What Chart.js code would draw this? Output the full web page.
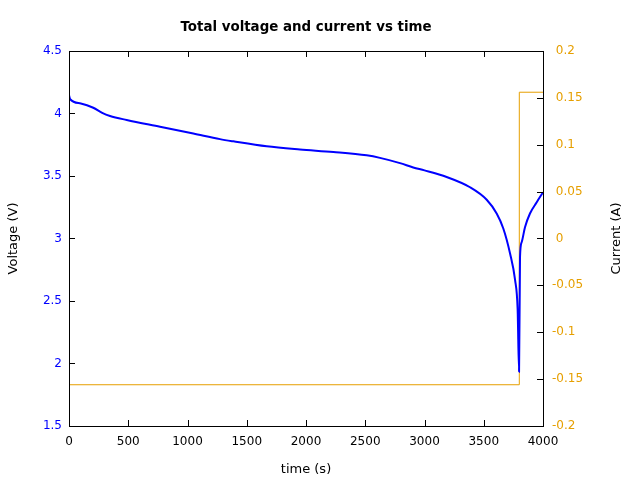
<!DOCTYPE html>
<html>
<head>
<meta charset="utf-8">
<script src="https://cdn.jsdelivr.net/npm/chart.js@4"></script>
<style>
  html, body { margin: 0; padding: 0; background: #fff; }
  #wrap { width: 640px; height: 480px; }
</style>
</head>
<body>
<div id="wrap"><canvas id="vcChart" width="640" height="480"></canvas></div>
<script>
// time (s) and total voltage (V)
const voltTimes = [0, 10, 100, 205, 280, 346, 487, 768, 1049, 1274, 1387, 1668, 1949, 2231, 2512, 2624, 2793, 2905, 3000, 3187, 3384, 3525, 3609, 3665, 3722, 3764, 3786, 3798, 3806, 3820, 3848, 3890, 3947, 4000];
const voltValues = [4.148, 4.114, 4.08, 4.046, 4.005, 3.98, 3.948, 3.894, 3.84, 3.795, 3.777, 3.737, 3.712, 3.692, 3.665, 3.645, 3.603, 3.568, 3.545, 3.492, 3.41, 3.31, 3.20, 3.08, 2.88, 2.67, 2.43, 1.934, 2.85, 2.97, 3.09, 3.20, 3.29, 3.37];

// current (A), step change at ~3800 s
const currTimes = [0, 3800, 3800, 4000];
const currValues = [-0.156, -0.156, 0.156, 0.156];

const xTicks = [0, 500, 1000, 1500, 2000, 2500, 3000, 3500, 4000];

const BLUE = '#0000ff';
const ORANGE = '#e69f00';
const FONT = 'DejaVu Sans';

const toPoints = (xs, ys) => xs.map((x, i) => ({ x: x, y: ys[i] }));

// frame, inward ticks and the right axis title (read bottom to top, like the left one)
const framePlugin = {
  id: 'frame',
  afterDatasetsDraw(chart) {
    const { ctx, chartArea: a, scales } = chart;
    const len = 6;
    ctx.save();
    ctx.strokeStyle = '#000';
    ctx.lineWidth = 1;
    ctx.beginPath();
    scales.x.ticks.forEach(t => {
      const px = Math.round(scales.x.getPixelForValue(t.value)) + 0.5;
      ctx.moveTo(px, a.bottom); ctx.lineTo(px, a.bottom - len);
      ctx.moveTo(px, a.top); ctx.lineTo(px, a.top + len);
    });
    scales.y.ticks.forEach(t => {
      const py = Math.round(scales.y.getPixelForValue(t.value)) + 0.5;
      ctx.moveTo(a.left, py); ctx.lineTo(a.left + len, py);
    });
    scales.y2.ticks.forEach(t => {
      const py = Math.round(scales.y2.getPixelForValue(t.value)) + 0.5;
      ctx.moveTo(a.right, py); ctx.lineTo(a.right - len, py);
    });
    ctx.stroke();
    ctx.strokeRect(Math.round(a.left) + 0.5, Math.round(a.top) + 0.5,
      Math.round(a.right - a.left), Math.round(a.bottom - a.top));

    ctx.translate(617, (a.top + a.bottom) / 2);
    ctx.rotate(-Math.PI / 2);
    ctx.fillStyle = '#000';
    ctx.font = '13px "' + FONT + '"';
    ctx.textAlign = 'center';
    ctx.textBaseline = 'middle';
    ctx.fillText('Current (A)', 0, 0);
    ctx.restore();
  }
};

new Chart(document.getElementById('vcChart'), {
  type: 'line',
  data: {
    datasets: [{
      label: 'Voltage',
      data: toPoints(voltTimes, voltValues),
      yAxisID: 'y',
      borderColor: BLUE,
      borderWidth: 2,
      pointRadius: 0,
      cubicInterpolationMode: 'monotone'
    }, {
      label: 'Current',
      data: toPoints(currTimes, currValues),
      yAxisID: 'y2',
      borderColor: ORANGE,
      borderWidth: 1,
      pointRadius: 0,
      tension: 0
    }]
  },
  options: {
    responsive: false,
    animation: false,
    layout: { padding: 0 },
    plugins: {
      legend: { display: false },
      tooltip: { enabled: false },
      title: {
        display: true,
        text: 'Total voltage and current vs time',
        fullSize: false,
        color: '#000',
        font: { family: FONT, size: 13.4, weight: 'bold' },
        padding: { top: 19, bottom: 15.9 }
      }
    },
    scales: {
      x: {
        type: 'linear',
        min: 0, max: 4000,
        afterBuildTicks: s => { s.ticks = xTicks.map(v => ({ value: v })); },
        afterFit: s => { s.height = 54; },
        grid: { display: false, drawTicks: false },
        border: { display: false },
        ticks: { color: '#000', padding: 9, maxRotation: 0, font: { family: FONT, size: 12 }, callback: v => String(v) },
        title: { display: true, text: 'time (s)', color: '#000', font: { family: FONT, size: 13 }, padding: { top: 0, bottom: 3 } }
      },
      y: {
        position: 'left',
        min: 1.5, max: 4.5,
        afterFit: s => { s.width = 69; },
        grid: { display: false, drawTicks: false },
        border: { display: false },
        ticks: { stepSize: 0.5, color: BLUE, padding: 7, font: { family: FONT, size: 12 }, callback: v => String(Math.round(v * 10) / 10) },
        title: { display: true, text: 'Voltage (V)', color: '#000', font: { family: FONT, size: 13 }, padding: { top: 6, bottom: 0 } }
      },
      y2: {
        position: 'right',
        min: -0.2, max: 0.2,
        afterFit: s => { s.width = 97; },
        grid: { display: false, drawTicks: false },
        border: { display: false },
        ticks: {
          stepSize: 0.05, color: ORANGE, padding: 9, font: { family: FONT, size: 12 },
          callback: v => {
            const r = Math.round(v * 100) / 100;
            return r < 0 ? String(r) : ' ' + r;
          }
        },
        title: { display: false }
      }
    }
  },
  plugins: [framePlugin]
});
</script>
</body>
</html>
